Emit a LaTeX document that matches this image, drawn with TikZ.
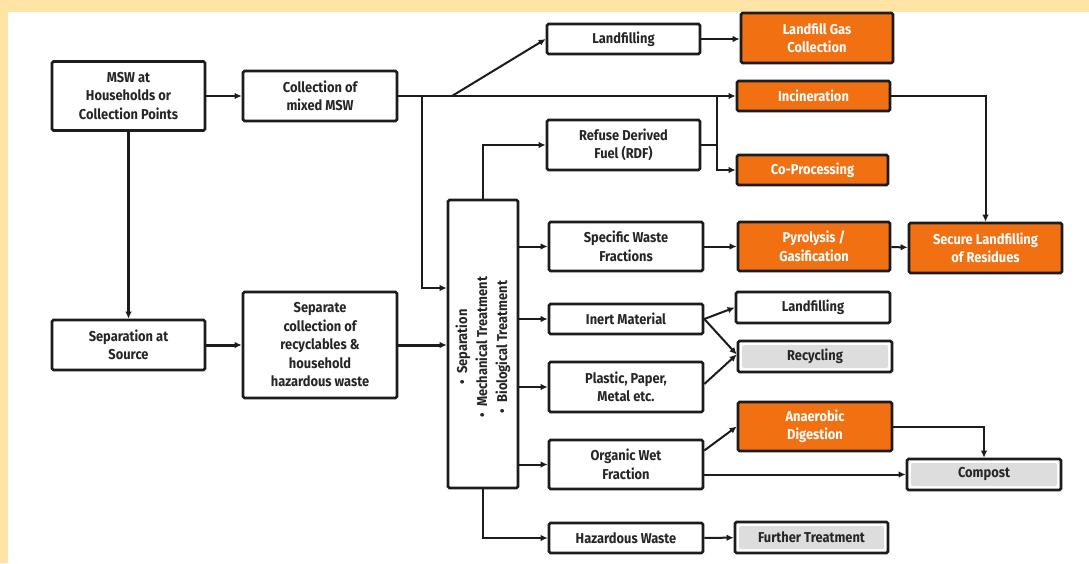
\documentclass[tikz,border=0pt]{standalone}
\usepackage{fontspec}
\setmainfont{Fira Sans}[FakeStretch=0.9]
\usetikzlibrary{arrows.meta,calc}
\definecolor{bgyellow}{RGB}{255,228,166}
\definecolor{orangebox}{RGB}{240,112,18}
\definecolor{grayin}{RGB}{221,221,221}
\definecolor{edge}{RGB}{28,28,28}
\tikzset{
  txt/.style={font=\bfseries\fontsize{14.3}{18.5}\selectfont, text=black!85},
  box/.style={txt, draw=edge, line width=2.6pt, rounded corners=1.5pt, fill=white, align=center, inner sep=0pt},
  obox/.style={box, fill=orangebox, text=white},
  gbox/.style={box, path picture={\fill[grayin] ([shift={(4pt,-4pt)}]path picture bounding box.north west) rectangle ([shift={(-4pt,4pt)}]path picture bounding box.south east);}},
  conn/.style={draw=edge, line width=2pt, -{Latex[length=7pt,width=6.5pt]}},
  line/.style={draw=edge, line width=2pt},
  thick conn/.style={conn, line width=3pt},
}
\begin{document}
\begin{tikzpicture}[x=1pt,y=-1pt]
\useasboundingbox (0,0) rectangle (1089,563);
\fill[bgyellow] (0,0) rectangle (1089,563);
\fill[white] (8,12) rectangle (1089,563);

% left column
\node[box, minimum width=153pt, minimum height=69pt] (msw) at (128.5,96) {MSW at\\Households or\\Collection Points};
\node[box, minimum width=154pt, minimum height=50pt] (coll) at (320,96) {Collection of\\mixed MSW};
\node[box, minimum width=153pt, minimum height=50pt] (sep) at (128.5,345) {Separation at\\Source};
\node[box, minimum width=154pt, minimum height=106pt] (sepcoll) at (320,345) {Separate\\collection of\\recyclables \&\\household\\hazardous waste};
\node[box, minimum width=70pt, minimum height=288pt] (mbt) at (483,344) {};
\node[txt, rotate=90, align=center, inner sep=0pt] (mbttext) at (483,347) {\textbullet\ \ Separation\\[1.5pt]\textbullet\ \ Mechanical Treatment\\[1.5pt]\textbullet\ \ Biological Treatment};

% middle column
\node[box, minimum width=153pt, minimum height=30pt] (land1) at (623.5,39) {Landfilling};
\node[box, minimum width=153pt, minimum height=50pt] (rdf) at (623.5,145) {Refuse Derived\\Fuel (RDF)};
\node[box, minimum width=154pt, minimum height=49pt] (swf) at (626,246.5) {Specific Waste\\Fractions};
\node[box, minimum width=154pt, minimum height=30pt] (inert) at (626,319) {Inert Material};
\node[box, minimum width=154pt, minimum height=50pt] (ppm) at (626,387) {Plastic, Paper,\\Metal etc.};
\node[box, minimum width=154pt, minimum height=49pt] (owf) at (626,464.5) {Organic Wet\\Fraction};
\node[box, minimum width=154pt, minimum height=30pt] (haz) at (626,538) {Hazardous Waste};

% right columns
\node[obox, minimum width=152pt, minimum height=50pt] (lgc) at (817,38) {Landfill Gas\\Collection};
\node[obox, minimum width=153pt, minimum height=30pt] (inc) at (813.5,96) {Incineration};
\node[obox, minimum width=151pt, minimum height=30pt] (cop) at (812.5,170) {Co-Processing};
\node[obox, minimum width=152pt, minimum height=49pt] (pyro) at (814,246.5) {Pyrolysis /\\Gasification};
\node[obox, minimum width=153pt, minimum height=50pt] (slr) at (985.5,248) {Secure Landfilling\\of Residues};
\node[box, minimum width=154pt, minimum height=31pt] (land2) at (813,307.5) {Landfilling};
\node[gbox, minimum width=154pt, minimum height=31pt] (recyc) at (815,356.5) {Recycling};
\node[obox, minimum width=154pt, minimum height=49pt] (ad) at (815,426.5) {Anaerobic\\Digestion};
\node[gbox, minimum width=154pt, minimum height=31pt] (compost) at (984,474.5) {Compost};
\node[gbox, minimum width=153pt, minimum height=31pt] (further) at (811.5,537.5) {Further Treatment};

% junction coordinates
\coordinate (j1) at (422,96);
\coordinate (j1b) at (422,288);
\coordinate (j2) at (452,96);
\coordinate (jv1) at (717,96);
\coordinate (jv2) at (717,170);
\coordinate (jc) at (717,145);

% connectors
\draw[conn] (msw) -- (coll);
\draw[thick conn] (msw.south) -- (sep.north);
\draw[thick conn] (sep) -- (sepcoll);
\draw[thick conn] (sepcoll.east) -- (sepcoll.east -| mbt.west);
\draw[conn] (coll.east) -- (coll.east -| inc.west);
\draw[conn] (j1) -- (j1b) -- (j1b -| mbt.west);
\draw[conn] (j2) -- (land1.west);
\draw[conn] (land1.east) -- (land1.east -| lgc.west);
\draw[conn] (mbt.north) |- (rdf.west);
\draw[line] (rdf.east |- jc) -- (jc);
\draw[conn] (jv1) -- (jv2) -- (jv2 -| cop.west);
\draw[conn] (inc.east) -| (slr.north);
\draw[conn] (mbt.east |- swf.west) -- (swf.west);
\draw[conn] (swf) -- (pyro);
\draw[conn] (pyro) -- (slr);
\draw[conn] (mbt.east |- inert.west) -- (inert.west);
\draw[conn] (mbt.east |- ppm.west) -- (ppm.west);
\draw[conn] (mbt.east |- owf.west) -- (owf.west);
\draw[conn] (mbt.south) |- (haz.west);
\draw[conn] (inert.east) -- (land2.west);
\draw[conn] (inert.east) -- ([yshift=2pt]recyc.west);
\draw[conn] ([yshift=3pt]ppm.east) -- ([yshift=2pt]recyc.west);
\draw[conn] ([yshift=14pt]owf.east) -- (ad.west);
\draw[conn] (owf.east |- compost.west) -- (compost.west);
\draw[conn] (ad.east) -| (compost.north);
\draw[conn] (haz) -- (further);
\end{tikzpicture}
\end{document}
